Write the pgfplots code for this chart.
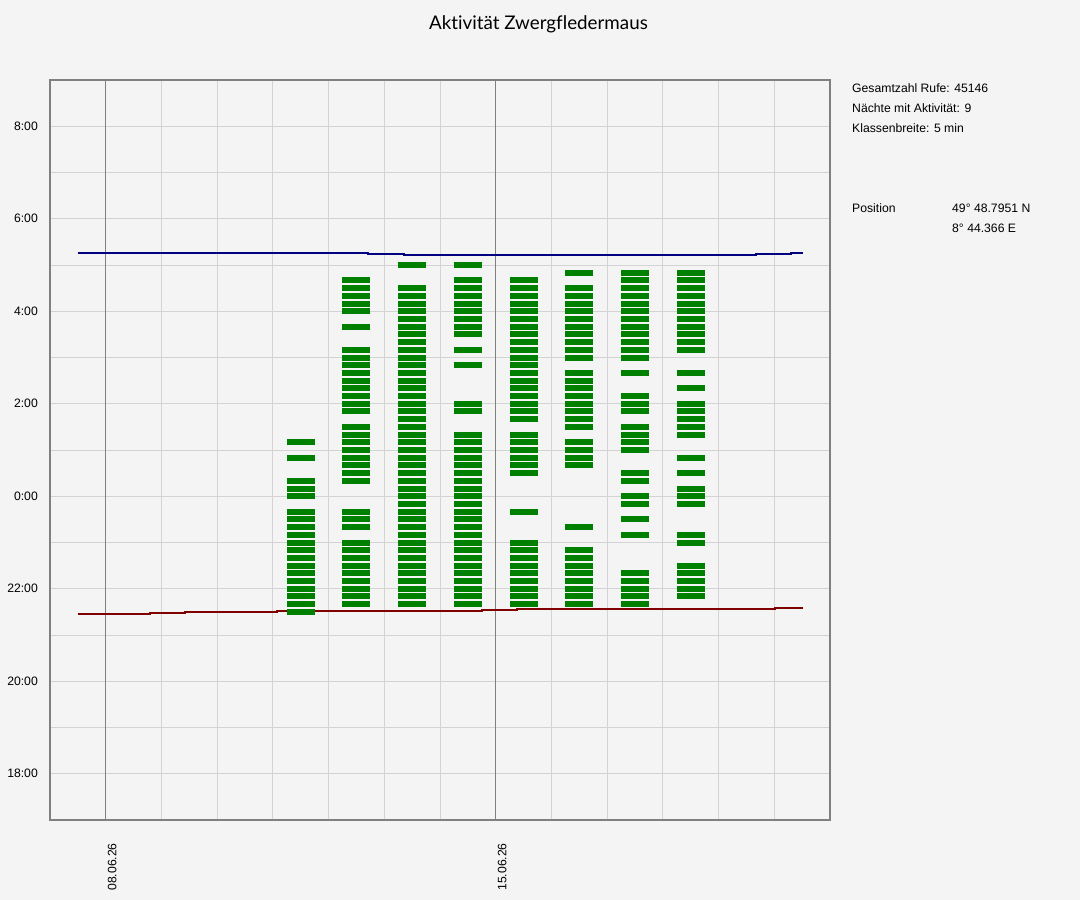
\documentclass[border=0pt]{standalone}
\usepackage{pgfplots}
\pgfplotsset{compat=1.18}
\usepackage{fontspec}
\setmainfont{Liberation Sans}
\newfontfamily\titlefont[Ligatures={NoCommon}]{Lato}
\definecolor{bg}{HTML}{F4F4F4}
\definecolor{gridgray}{HTML}{D3D3D3}
\definecolor{framegray}{HTML}{808080}
\definecolor{batgreen}{HTML}{008000}
\definecolor{sunrise}{HTML}{000080}
\definecolor{sunset}{HTML}{800000}
\newcommand\tah{\fontsize{12.2pt}{14pt}\selectfont}
\begin{document}
\begin{tikzpicture}
\fill[bg] (0pt,0pt) rectangle (1080pt,-900pt);
\begin{axis}[
  at={(50pt,-820pt)}, anchor=south west,
  scale only axis, width=780pt, height=740pt,
  xmin=7, xmax=21, ymin=-420, ymax=540,
  axis line style={draw=framegray, line width=2pt},
  xtick={8,15}, xticklabels={08.06.26,15.06.26},
  minor xtick={9,10,11,12,13,14,16,17,18,19,20},
  ytick={-360,-240,-120,0,120,240,360,480},
  yticklabels={18:00,20:00,22:00,0:00,2:00,4:00,6:00,8:00},
  minor ytick={-300,-180,-60,60,180,300,420},
  grid=both,
  major grid style={draw=gridgray, line width=1pt},
  minor grid style={draw=gridgray, line width=1pt},
  major tick length=0pt, minor tick length=0pt,
  tick label style={font=\tah, text=black},
  xticklabel style={yshift=-21pt, rotate=90, anchor=north east, inner sep=2pt},
  yticklabel style={anchor=east, inner sep=0pt, xshift=-12pt},
]
% week marker lines
\addplot[framegray, line width=1pt, forget plot] coordinates {(8,-420) (8,540)};
\addplot[framegray, line width=1pt, forget plot] coordinates {(15,-420) (15,540)};
% sunrise (minutes after midnight)
\addplot[sunrise, line width=2pt, const plot] coordinates {
(7.51,315) (12.70,313.7) (13.35,312.4) (19.67,313.7) (20.30,315) (20.52,315)};
% sunset (minutes relative to midnight)
\addplot[sunset, line width=2pt, const plot] coordinates {
(7.51,-153) (8.80,-151.8) (9.42,-150.5) (11.08,-149.2) (14.75,-147.9) (15.38,-146.6) (20.02,-145.3) (20.52,-145.3)};
% activity classes (x = night, y = minutes relative to midnight)
\addplot[only marks, mark=-, mark size=14pt, line width=6pt, batgreen] coordinates {
(11.5,70) (11.5,50) (11.5,20) (11.5,10) (11.5,0) (11.5,-20) (11.5,-30) (11.5,-40) (11.5,-50) (11.5,-60) (11.5,-70) (11.5,-80) (11.5,-90) (11.5,-100) (11.5,-110) (11.5,-120) (11.5,-130) (11.5,-140) (11.5,-150)};
\addplot[only marks, mark=-, mark size=14pt, line width=6pt, batgreen] coordinates {
(12.5,280) (12.5,270) (12.5,260) (12.5,250) (12.5,240) (12.5,220) (12.5,190) (12.5,180) (12.5,170) (12.5,160) (12.5,150) (12.5,140) (12.5,130) (12.5,120) (12.5,110) (12.5,90) (12.5,80) (12.5,70) (12.5,60) (12.5,50) (12.5,40) (12.5,30) (12.5,20) (12.5,-20) (12.5,-30) (12.5,-40) (12.5,-60) (12.5,-70) (12.5,-80) (12.5,-90) (12.5,-100) (12.5,-110) (12.5,-120) (12.5,-130) (12.5,-140)};
\addplot[only marks, mark=-, mark size=14pt, line width=6pt, batgreen] coordinates {
(13.5,300) (13.5,270) (13.5,260) (13.5,250) (13.5,240) (13.5,230) (13.5,220) (13.5,210) (13.5,200) (13.5,190) (13.5,180) (13.5,170) (13.5,160) (13.5,150) (13.5,140) (13.5,130) (13.5,120) (13.5,110) (13.5,100) (13.5,90) (13.5,80) (13.5,70) (13.5,60) (13.5,50) (13.5,40) (13.5,30) (13.5,20) (13.5,10) (13.5,0) (13.5,-10) (13.5,-20) (13.5,-30) (13.5,-40) (13.5,-50) (13.5,-60) (13.5,-70) (13.5,-80) (13.5,-90) (13.5,-100) (13.5,-110) (13.5,-120) (13.5,-130) (13.5,-140)};
\addplot[only marks, mark=-, mark size=14pt, line width=6pt, batgreen] coordinates {
(14.5,300) (14.5,280) (14.5,270) (14.5,260) (14.5,250) (14.5,240) (14.5,230) (14.5,220) (14.5,210) (14.5,190) (14.5,170) (14.5,120) (14.5,110) (14.5,80) (14.5,70) (14.5,60) (14.5,50) (14.5,40) (14.5,30) (14.5,20) (14.5,10) (14.5,0) (14.5,-10) (14.5,-20) (14.5,-30) (14.5,-40) (14.5,-50) (14.5,-60) (14.5,-70) (14.5,-80) (14.5,-90) (14.5,-100) (14.5,-110) (14.5,-120) (14.5,-130) (14.5,-140)};
\addplot[only marks, mark=-, mark size=14pt, line width=6pt, batgreen] coordinates {
(15.5,280) (15.5,270) (15.5,260) (15.5,250) (15.5,240) (15.5,230) (15.5,220) (15.5,210) (15.5,200) (15.5,190) (15.5,180) (15.5,170) (15.5,160) (15.5,150) (15.5,140) (15.5,130) (15.5,120) (15.5,110) (15.5,100) (15.5,80) (15.5,70) (15.5,60) (15.5,50) (15.5,40) (15.5,30) (15.5,-20) (15.5,-60) (15.5,-70) (15.5,-80) (15.5,-90) (15.5,-100) (15.5,-110) (15.5,-120) (15.5,-130) (15.5,-140)};
\addplot[only marks, mark=-, mark size=14pt, line width=6pt, batgreen] coordinates {
(16.5,290) (16.5,270) (16.5,260) (16.5,250) (16.5,240) (16.5,230) (16.5,220) (16.5,210) (16.5,200) (16.5,190) (16.5,180) (16.5,160) (16.5,150) (16.5,140) (16.5,130) (16.5,120) (16.5,110) (16.5,100) (16.5,90) (16.5,70) (16.5,60) (16.5,50) (16.5,40) (16.5,-40) (16.5,-70) (16.5,-80) (16.5,-90) (16.5,-100) (16.5,-110) (16.5,-120) (16.5,-130) (16.5,-140)};
\addplot[only marks, mark=-, mark size=14pt, line width=6pt, batgreen] coordinates {
(17.5,290) (17.5,280) (17.5,270) (17.5,260) (17.5,250) (17.5,240) (17.5,230) (17.5,220) (17.5,210) (17.5,200) (17.5,190) (17.5,180) (17.5,160) (17.5,130) (17.5,120) (17.5,110) (17.5,90) (17.5,80) (17.5,70) (17.5,60) (17.5,30) (17.5,20) (17.5,0) (17.5,-10) (17.5,-30) (17.5,-50) (17.5,-100) (17.5,-110) (17.5,-120) (17.5,-130) (17.5,-140)};
\addplot[only marks, mark=-, mark size=14pt, line width=6pt, batgreen] coordinates {
(18.5,290) (18.5,280) (18.5,270) (18.5,260) (18.5,250) (18.5,240) (18.5,230) (18.5,220) (18.5,210) (18.5,200) (18.5,190) (18.5,160) (18.5,140) (18.5,120) (18.5,110) (18.5,100) (18.5,90) (18.5,80) (18.5,50) (18.5,30) (18.5,10) (18.5,0) (18.5,-10) (18.5,-50) (18.5,-60) (18.5,-90) (18.5,-100) (18.5,-110) (18.5,-120) (18.5,-130)};
\end{axis}
\node[anchor=base, inner sep=0pt, font=\titlefont\fontsize{18.8pt}{22pt}\selectfont] at (538.5pt,-29pt) {Aktivität Zwergfledermaus};
\begin{scope}[every node/.style={anchor=base west, inner sep=0pt, font=\tah}]
\node at (852pt,-92pt) {Gesamtzahl Rufe: 45146};
\node at (852pt,-112pt) {Nächte mit Aktivität: 9};
\node at (852pt,-132pt) {Klassenbreite: 5 min};
\node at (852pt,-212pt) {Position};
\node at (952pt,-212pt) {49° 48.7951 N};
\node at (952pt,-232pt) {8° 44.366 E};
\end{scope}
\pgfresetboundingbox
\path[use as bounding box] (0pt,0pt) rectangle (1080pt,-900pt);
\end{tikzpicture}
\end{document}
